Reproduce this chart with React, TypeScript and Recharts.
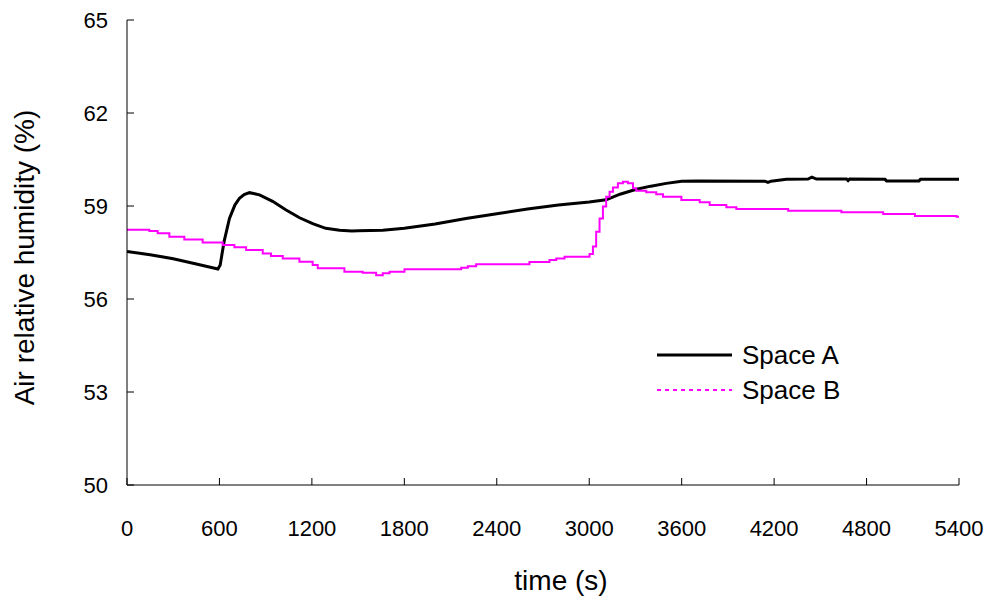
import React from 'react';
import { LineChart, Line, XAxis, YAxis, Legend, Label } from 'recharts';

// Simulated air relative humidity in two spaces over a 90-minute run
const timeA = [0, 150, 300, 450, 590, 605, 630, 665, 700, 730, 760, 795, 860, 945, 1030, 1120, 1205, 1290, 1380, 1460, 1500, 1660, 1800, 2000, 2200, 2400, 2600, 2800, 3000, 3110, 3200, 3300, 3400, 3500, 3600, 3700, 4140, 4160, 4180, 4280, 4420, 4445, 4475, 4670, 4680, 4690, 4920, 4930, 5140, 5150, 5400];
const humidityA = [57.53, 57.43, 57.3, 57.13, 56.97, 57.1, 57.85, 58.6, 59.03, 59.25, 59.37, 59.43, 59.36, 59.15, 58.88, 58.62, 58.43, 58.28, 58.22, 58.19, 58.2, 58.22, 58.28, 58.42, 58.6, 58.75, 58.9, 59.03, 59.13, 59.2, 59.38, 59.53, 59.64, 59.73, 59.8, 59.81, 59.8, 59.76, 59.8, 59.86, 59.87, 59.93, 59.87, 59.87, 59.82, 59.87, 59.86, 59.81, 59.81, 59.86, 59.86];

const timeB = [0, 145, 199, 275, 372, 491, 621, 697, 773, 881, 935, 1011, 1119, 1205, 1238, 1411, 1530, 1617, 1660, 1704, 1801, 2169, 2212, 2266, 2612, 2742, 2786, 2840, 3002, 3024, 3045, 3067, 3089, 3110, 3132, 3154, 3186, 3219, 3251, 3284, 3305, 3370, 3435, 3479, 3598, 3717, 3782, 3890, 3955, 4291, 4637, 4908, 5114, 5384, 5400];
const humidityB = [58.23, 58.19, 58.12, 58.01, 57.92, 57.82, 57.74, 57.67, 57.58, 57.47, 57.39, 57.31, 57.2, 57.1, 56.99, 56.88, 56.85, 56.77, 56.83, 56.88, 56.96, 57.01, 57.06, 57.12, 57.19, 57.26, 57.31, 57.36, 57.45, 57.69, 58.17, 58.6, 58.98, 59.3, 59.46, 59.6, 59.73, 59.78, 59.73, 59.57, 59.49, 59.44, 59.38, 59.3, 59.19, 59.12, 59.03, 58.96, 58.9, 58.85, 58.8, 58.74, 58.68, 58.65, 58.65];

const xTicks = [0, 600, 1200, 1800, 2400, 3000, 3600, 4200, 4800, 5400];
const yTicks = [50, 53, 56, 59, 62, 65];

const seriesNames = ['Space A', 'Space B'];
const xTitle = 'time (s)';
const yTitle = 'Air relative humidity (%)';

const seriesA = timeA.map((t, i) => ({ time: t, value: humidityA[i] }));
const seriesB = timeB.map((t, i) => ({ time: t, value: humidityB[i] }));

const FONT = '"Liberation Sans", Arial, Helvetica, sans-serif';
const TICK_LEN = 7;

// Inward tick marks with labels outside the plot
const XTick = (props: any) => {
  const { x, y, payload } = props;
  return (
    <g>
      <line x1={x} y1={y} x2={x} y2={y - TICK_LEN} stroke="#000" strokeWidth={1} />
      <text x={x} y={y + 51} textAnchor="middle" fontSize={22} fontFamily={FONT} fill="#000">
        {payload.value}
      </text>
    </g>
  );
};

const YTick = (props: any) => {
  const { x, y, payload } = props;
  return (
    <g>
      <line x1={x} y1={y} x2={x + TICK_LEN} y2={y} stroke="#000" strokeWidth={1} />
      <text x={x - 19} y={y + 8} textAnchor="end" fontSize={22} fontFamily={FONT} fill="#000">
        {payload.value}
      </text>
    </g>
  );
};

const XTitle = (props: any) => {
  const vb = props.viewBox;
  const cx = vb.x + vb.width / 2 + 18;
  return (
    <text x={cx} y={vb.y + 105} textAnchor="middle" fontSize={28} fontFamily={FONT} fill="#000">
      {xTitle}
    </text>
  );
};

const YTitle = (props: any) => {
  const vb = props.viewBox;
  const cx = vb.x + 34;
  const cy = vb.y + vb.height / 2 + 5;
  return (
    <text
      x={cx}
      y={cy}
      textAnchor="middle"
      fontSize={28}
      fontFamily={FONT}
      fill="#000"
      transform={`rotate(-90, ${cx}, ${cy})`}
    >
      {yTitle}
    </text>
  );
};

const LegendBox = (props: any) => {
  const items = props.payload || [];
  return (
    <svg width={200} height={72}>
      {items.map((entry: any, i: number) => {
        const cy = 17 + i * 35;
        const dashed = i === 1;
        return (
          <g key={entry.value}>
            <line
              x1={2}
              y1={cy}
              x2={77}
              y2={cy}
              stroke={entry.color}
              strokeWidth={dashed ? 2 : 3}
              strokeDasharray={dashed ? '4 4' : undefined}
            />
            <text x={87} y={cy + 9} fontSize={26} fontFamily={FONT} fill="#000">
              {entry.value}
            </text>
          </g>
        );
      })}
    </svg>
  );
};

export default function App() {
  return (
    <div style={{ position: 'absolute', left: 0, top: 0, background: '#fff' }}>
      <LineChart width={992} height={603} margin={{ top: 20, right: 33, bottom: 0, left: 0 }}>
        <XAxis
          dataKey="time"
          type="number"
          domain={[0, 5400]}
          ticks={xTicks}
          interval={0}
          height={118}
          allowDuplicatedCategory={false}
          axisLine={{ stroke: '#000', strokeWidth: 1 }}
          tickLine={false}
          tickSize={0}
          tickMargin={0}
          tick={<XTick />}
        >
          <Label content={<XTitle />} />
        </XAxis>
        <YAxis
          type="number"
          domain={[50, 65]}
          ticks={yTicks}
          interval={0}
          width={127}
          axisLine={{ stroke: '#000', strokeWidth: 1 }}
          tickLine={false}
          tickSize={0}
          tickMargin={0}
          tick={<YTick />}
        >
          <Label content={<YTitle />} />
        </YAxis>
        <Legend
          layout="horizontal"
          verticalAlign="middle"
          align="center"
          content={<LegendBox />}
          wrapperStyle={{ position: 'absolute', left: 655, top: 338, width: 200, height: 72 }}
        />
        <Line
          data={seriesA}
          dataKey="value"
          name={seriesNames[0]}
          type="linear"
          stroke="#000000"
          strokeWidth={3}
          dot={false}
          activeDot={false}
          isAnimationActive={false}
        />
        <Line
          data={seriesB}
          dataKey="value"
          name={seriesNames[1]}
          type="stepAfter"
          stroke="#FF00FF"
          strokeWidth={2}
          dot={false}
          activeDot={false}
          isAnimationActive={false}
        />
      </LineChart>
    </div>
  );
}
